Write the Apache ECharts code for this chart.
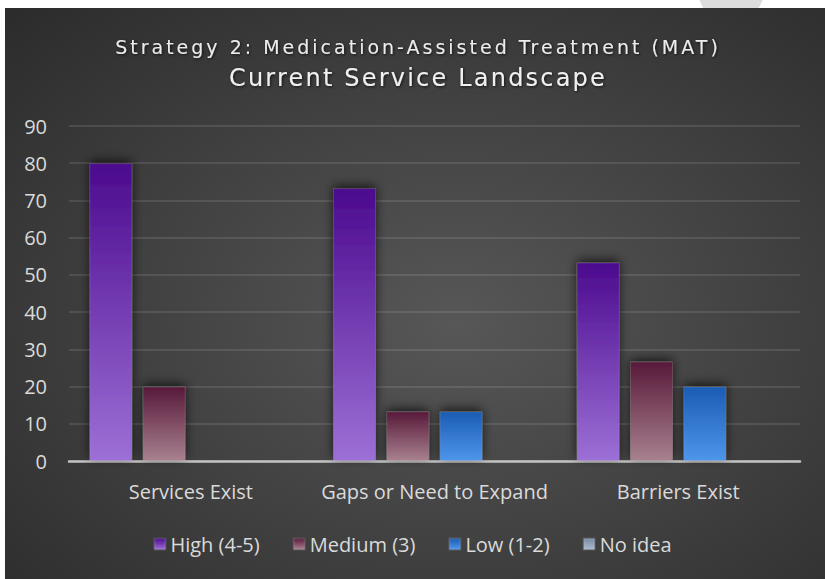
<!DOCTYPE html>
<html>
<head>
<meta charset="utf-8">
<script src="https://cdn.jsdelivr.net/npm/echarts@6/dist/echarts.min.js"></script>
<style>
  html, body { margin: 0; padding: 0; background: #fff; }
  #main { width: 825px; height: 579px; }
  /* the reference title is set with expanded character spacing */
  #main text[style*="DejaVu"][style*="19px"] { letter-spacing: 3px; }
  #main text[style*="DejaVu"][style*="24px"] { letter-spacing: 2.2px; }
</style>
</head>
<body>
<div id="main"></div>
<script>
// data (percent of respondents)
var categories = ['Services Exist', 'Gaps or Need to Expand', 'Barriers Exist'];
var seriesNames = ['High (4-5)', 'Medium (3)', 'Low (1-2)', 'No idea'];
var highVals = [80, 73.3, 53.3];
var mediumVals = [20, 13.3, 26.7];
var lowVals = [0, 13.3, 20];
var noIdeaVals = [0, 0, 0];
var yTicks = [0, 10, 20, 30, 40, 50, 60, 70, 80, 90];

var font = 'Open Sans';
var txtColor = '#dadada';

function grad(top, bottom) {
    return new echarts.graphic.LinearGradient(0, 0, 0, 1, [
        { offset: 0, color: top },
        { offset: 1, color: bottom }
    ]);
}
var colors = [
    grad('#4c0a8e', '#9c70d6'),
    grad('#581a3a', '#a8818f'),
    grad('#1a5cb4', '#4f95ec'),
    grad('#7a8ca6', '#aab9cc')
];

function makeSeries(name, vals, i) {
    return {
        name: name,
        type: 'bar',
        data: vals,
        barWidth: 43,
        barGap: '24%',
        itemStyle: {
            color: colors[i],
            borderColor: 'rgba(255,255,255,0.12)',
            borderWidth: 1,
            shadowColor: 'rgba(0,0,0,0.7)',
            shadowBlur: 11,
            shadowOffsetY: -3
        }
    };
}

var dom = document.getElementById('main');
var myChart = echarts.init(dom, null, { renderer: 'svg' });
var option = {
    backgroundColor: '#ffffff',
    animation: false,
    graphic: [
        {
            type: 'circle', z: -20, silent: true,
            shape: { cx: 731, cy: -10, r: 33 },
            style: { fill: '#dcdcdc' }
        },
        {
            type: 'rect', z: -10, silent: true,
            shape: { x: 5, y: 8, width: 820, height: 571 },
            style: {
                fill: new echarts.graphic.RadialGradient(0.55, 0.55, 0.8, [
                    { offset: 0, color: '#575757' },
                    { offset: 1, color: '#2a2a2a' }
                ])
            }
        }
    ],
    title: [
        {
            text: 'Strategy 2: Medication-Assisted Treatment (MAT)',
            left: 413,
            textAlign: 'center',
            top: 32,
            textStyle: {
                fontFamily: 'DejaVu Sans', fontSize: 19, fontWeight: 'normal', color: '#ececec',
                textShadowColor: 'rgba(0,0,0,0.7)', textShadowBlur: 3, textShadowOffsetX: 1, textShadowOffsetY: 1
            }
        },
        {
            text: 'Current Service Landscape',
            left: 413,
            textAlign: 'center',
            top: 61,
            textStyle: {
                fontFamily: 'DejaVu Sans', fontSize: 24, fontWeight: 'normal', color: '#f0f0f0',
                textShadowColor: 'rgba(0,0,0,0.7)', textShadowBlur: 3, textShadowOffsetX: 1, textShadowOffsetY: 1
            }
        }
    ],
    legend: {
        data: seriesNames,
        bottom: 20,
        left: 'center',
        itemWidth: 11,
        itemHeight: 11,
        itemGap: 33,
        icon: 'rect',
        textStyle: { fontFamily: font, fontSize: 20, color: txtColor }
    },
    grid: {
        left: 69,
        right: 25,
        top: 126,
        bottom: 118
    },
    xAxis: {
        type: 'category',
        data: categories,
        axisLine: { lineStyle: { color: '#c4c4c4', width: 2.5 } },
        axisTick: { show: false },
        axisLabel: { interval: 0, fontFamily: font, fontSize: 20, color: txtColor, margin: 20 }
    },
    yAxis: {
        type: 'value',
        min: yTicks[0],
        max: yTicks[yTicks.length - 1],
        interval: 10,
        axisLine: { show: false },
        axisTick: { show: false },
        axisLabel: { fontFamily: font, fontSize: 20, color: txtColor, margin: 22 },
        splitLine: { lineStyle: { color: 'rgba(255,255,255,0.14)', width: 1.5 } }
    },
    series: [
        makeSeries(seriesNames[0], highVals, 0),
        makeSeries(seriesNames[1], mediumVals, 1),
        makeSeries(seriesNames[2], lowVals, 2),
        makeSeries(seriesNames[3], noIdeaVals, 3)
    ]
};
if (option && typeof option === 'object') {
    myChart.setOption(option, true);
}
</script>
</body>
</html>
